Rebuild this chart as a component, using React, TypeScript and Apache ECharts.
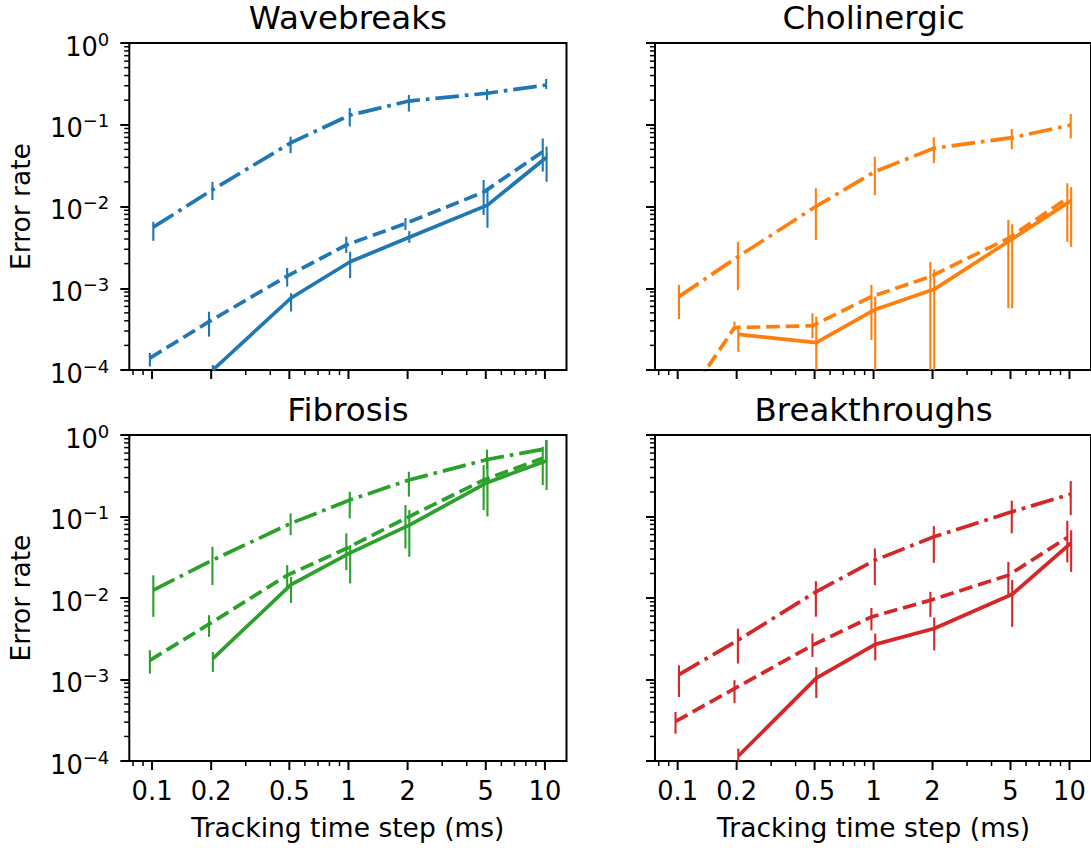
import React, { useEffect, useRef } from "react";
import * as echarts from "echarts";

const FONT = "DejaVu Sans";
const X_MIN = 0.0766;
const X_MAX = 12.88;
const Y_MIN = 1e-4;
const Y_MAX = 1;

// Tracking time steps (ms)
const steps = [0.1, 0.2, 0.5, 1, 2, 5, 10];
const xTickValues = [0.1, 0.2, 0.5, 1, 2, 5, 10];
const xTickLabels = ["0.1", "0.2", "0.5", "1", "2", "5", "10"];
const xMinorTicks = [0.08, 0.09, 0.3, 0.4, 0.6, 0.7, 0.8, 0.9, 3, 4, 6, 7, 8, 9];
const yTickValues = [1e-4, 1e-3, 1e-2, 1e-1, 1];
const yTickExponents = ["\u22124", "\u22123", "\u22122", "\u22121", "0"];
const panelTitles = ["Wavebreaks", "Cholinergic", "Fibrosis", "Breakthroughs"];
const panelColors = ["#1f77b4", "#ff7f0e", "#2ca02c", "#d62728"];

// Wavebreaks
const wavebreaksSolid = [null, 1.0e-4, 7.6e-4, 2.11e-3, 4.2e-3, 0.0104, 0.04];
const wavebreaksSolidLo = [null, 0, 5.2e-4, 1.33e-3, 3.6e-3, 5.5e-3, 0.0201];
const wavebreaksSolidHi = [null, 1.15e-4, 8.7e-4, 2.8e-3, 5.0e-3, 0.0159, 0.054];
const wavebreaksDashed = [1.4e-4, 3.9e-4, 1.41e-3, 3.38e-3, 6.2e-3, 0.015, 0.0468];
const wavebreaksDashedLo = [1.1e-4, 2.56e-4, 1.05e-3, 2.69e-3, 5.16e-3, 7.9e-3, 0.0267];
const wavebreaksDashedHi = [1.62e-4, 5.16e-4, 1.77e-3, 4.27e-3, 7.24e-3, 0.0211, 0.068];
const wavebreaksDashDot = [5.6e-3, 0.016, 0.06, 0.131, 0.195, 0.243, 0.306];
const wavebreaksDashDotLo = [3.8e-3, 0.012, 0.045, 0.095, 0.145, 0.2, 0.274];
const wavebreaksDashDotHi = [6.5e-3, 0.02, 0.0715, 0.16, 0.231, 0.274, 0.363];

// Cholinergic
const cholinergicSolid = [null, 2.73e-4, 2.16e-4, 5.5e-4, 9.7e-4, 4.0e-3, 0.0118];
const cholinergicSolidLo = [null, 1.67e-4, 0, 0, 0, 5.7e-4, 3.2e-3];
const cholinergicSolidHi = [null, 3.46e-4, 4.5e-4, 7.9e-4, 1.7e-3, 6.06e-3, 0.0172];
const cholinergicDashed = [2.8e-5, 3.3e-4, 3.48e-4, 7.9e-4, 1.39e-3, 4.08e-3, 0.0126];
const cholinergicDashedLo = [1.6e-5, 3.1e-4, 2.44e-4, 2.33e-4, 0, 5.7e-4, 3.7e-3];
const cholinergicDashedHi = [4.0e-5, 3.9e-4, 4.94e-4, 1.1e-3, 2.1e-3, 6.84e-3, 0.0192];
const cholinergicDashDot = [7.9e-4, 2.43e-3, 0.01, 0.0267, 0.0515, 0.0695, 0.099];
const cholinergicDashDotLo = [4.2e-4, 9.5e-4, 3.9e-3, 0.0138, 0.0338, 0.05, 0.068];
const cholinergicDashDotHi = [1.1e-3, 3.7e-3, 0.0167, 0.0406, 0.0703, 0.0887, 0.135];

// Fibrosis
const fibrosisSolid = [null, 1.8e-3, 0.0146, 0.0358, 0.0784, 0.262, 0.483];
const fibrosisSolidLo = [null, 1.24e-3, 8.7e-3, 0.0151, 0.032, 0.1, 0.211];
const fibrosisSolidHi = [null, 2.18e-3, 0.0182, 0.0445, 0.12, 0.517, 0.868];
const fibrosisDashed = [1.72e-3, 4.77e-3, 0.019, 0.0405, 0.0947, 0.28, 0.517];
const fibrosisDashedLo = [1.18e-3, 3.33e-3, 0.0131, 0.022, 0.0405, 0.12, 0.243];
const fibrosisDashedHi = [2.29e-3, 6.15e-3, 0.0253, 0.062, 0.138, 0.428, 0.718];
const fibrosisDashDot = [0.0125, 0.0291, 0.0822, 0.159, 0.28, 0.5, 0.68];
const fibrosisDashDotLo = [5.86e-3, 0.0144, 0.059, 0.0947, 0.175, 0.38, 0.5];
const fibrosisDashDotHi = [0.019, 0.0425, 0.109, 0.201, 0.354, 0.66, 0.87];

// Breakthroughs
const breakthroughsSolid = [null, 1.15e-4, 1.04e-3, 2.7e-3, 4.22e-3, 0.0111, 0.0475];
const breakthroughsSolidLo = [null, 0, 5.93e-4, 1.72e-3, 2.28e-3, 4.42e-3, 0.0209];
const breakthroughsSolidHi = [null, 1.42e-4, 1.42e-3, 3.66e-3, 5.76e-3, 0.0166, 0.068];
const breakthroughsDashed = [3.06e-4, 7.73e-4, 2.63e-3, 5.86e-3, 9.4e-3, 0.019, 0.0553];
const breakthroughsDashedLo = [2.16e-4, 5.14e-4, 1.89e-3, 4.02e-3, 5.86e-3, 0.0108, 0.0273];
const breakthroughsDashedHi = [3.99e-4, 9.8e-4, 3.66e-3, 7.56e-3, 0.0119, 0.0277, 0.0885];
const breakthroughsDashDot = [1.15e-3, 3.03e-3, 0.0119, 0.0291, 0.0563, 0.114, 0.188];
const breakthroughsDashDotLo = [6.1e-4, 1.57e-3, 5.9e-3, 0.0144, 0.027, 0.062, 0.104];
const breakthroughsDashDotHi = [1.49e-3, 4.2e-3, 0.0161, 0.0405, 0.0762, 0.156, 0.272];

type Trace = {
  values: (number | null)[];
  lo: (number | null)[];
  hi: (number | null)[];
  style: "solid" | "dashed" | "dashdot";
};

const panels: Trace[][] = [
  [
    { values: wavebreaksSolid, lo: wavebreaksSolidLo, hi: wavebreaksSolidHi, style: "solid" },
    { values: wavebreaksDashed, lo: wavebreaksDashedLo, hi: wavebreaksDashedHi, style: "dashed" },
    { values: wavebreaksDashDot, lo: wavebreaksDashDotLo, hi: wavebreaksDashDotHi, style: "dashdot" },
  ],
  [
    { values: cholinergicSolid, lo: cholinergicSolidLo, hi: cholinergicSolidHi, style: "solid" },
    { values: cholinergicDashed, lo: cholinergicDashedLo, hi: cholinergicDashedHi, style: "dashed" },
    { values: cholinergicDashDot, lo: cholinergicDashDotLo, hi: cholinergicDashDotHi, style: "dashdot" },
  ],
  [
    { values: fibrosisSolid, lo: fibrosisSolidLo, hi: fibrosisSolidHi, style: "solid" },
    { values: fibrosisDashed, lo: fibrosisDashedLo, hi: fibrosisDashedHi, style: "dashed" },
    { values: fibrosisDashDot, lo: fibrosisDashDotLo, hi: fibrosisDashDotHi, style: "dashdot" },
  ],
  [
    { values: breakthroughsSolid, lo: breakthroughsSolidLo, hi: breakthroughsSolidHi, style: "solid" },
    { values: breakthroughsDashed, lo: breakthroughsDashedLo, hi: breakthroughsDashedHi, style: "dashed" },
    { values: breakthroughsDashDot, lo: breakthroughsDashDotLo, hi: breakthroughsDashDotHi, style: "dashdot" },
  ],
];

// small horizontal offsets so overlapping error bars stay distinguishable
const styleShift = { solid: 1.02, dashed: 0.975, dashdot: 1.015 };

const LW = 3.7;
const dashPattern: Record<string, any> = {
  solid: "solid",
  dashed: [3.7 * LW, 1.6 * LW],
  dashdot: [6.4 * LW, 1.6 * LW, 1 * LW, 1.6 * LW],
};

// grid boxes: [left, top]
const gridBoxes = [
  [129.3, 43],
  [655, 43],
  [129.3, 435],
  [655, 435],
];
const GRID_W = 437.2;
const GRID_H = [327, 327, 326, 326];

const yMinorTicks: number[] = [];
for (let d = -4; d < 0; d++) {
  for (let m = 2; m <= 9; m++) yMinorTicks.push(m * Math.pow(10, d));
}

const MAJOR_LEN = 9;
const MINOR_LEN = 5.1;
const TICK_FONT = 25.7;
const SUP_FONT = 18;
const LABEL_FONT = 26.5;
const TITLE_FONT = 32.5;

function textWidth(text: string, size: number) {
  const ctx = document.createElement("canvas").getContext("2d");
  if (!ctx) return text.length * size * 0.6;
  ctx.font = `${size}px "${FONT}"`;
  return ctx.measureText(text).width;
}

function buildOption() {
  const grids: any[] = [];
  const xAxes: any[] = [];
  const yAxes: any[] = [];
  const series: any[] = [];

  gridBoxes.forEach((box, i) => {
    grids.push({
      left: box[0],
      top: box[1],
      width: GRID_W,
      height: GRID_H[i],
      show: true,
      borderColor: "#000",
      borderWidth: 2,
      backgroundColor: "transparent",
      containLabel: false,
    });
    xAxes.push({
      type: "log",
      logBase: 10,
      gridIndex: i,
      min: X_MIN,
      max: X_MAX,
      axisLine: { show: false },
      axisTick: { show: false },
      axisLabel: { show: false },
      splitLine: { show: false },
    });
    yAxes.push({
      type: "log",
      logBase: 10,
      gridIndex: i,
      min: Y_MIN,
      max: Y_MAX,
      axisLine: { show: false },
      splitLine: { show: false },
      axisTick: { show: true, length: MAJOR_LEN, lineStyle: { color: "#000", width: 2 } },
      axisLabel: { show: false },
    });

    const color = panelColors[i];
    panels[i].forEach((tr) => {
      const shift = styleShift[tr.style];
      const pts: number[][] = [];
      const bars: number[][] = [];
      steps.forEach((s, k) => {
        const v = tr.values[k];
        if (v == null) return;
        const x = s * shift;
        pts.push([x, v]);
        const hi = tr.hi[k] as number;
        const lo = tr.lo[k] as number;
        if (hi > Y_MIN) bars.push([x, Math.max(lo, Y_MIN), hi]);
      });
      series.push({
        type: "custom",
        xAxisIndex: i,
        yAxisIndex: i,
        data: bars,
        clip: true,
        silent: true,
        z: 2,
        renderItem: (params: any, api: any) => {
          const x = api.value(0);
          const p1 = api.coord([x, api.value(2)]);
          const p2 = api.coord([x, api.value(1)]);
          return {
            type: "line",
            shape: { x1: p1[0], y1: p1[1], x2: p2[0], y2: p2[1] },
            style: { stroke: color, lineWidth: 2.1 },
          };
        },
      });
      series.push({
        type: "line",
        xAxisIndex: i,
        yAxisIndex: i,
        data: pts,
        symbol: "none",
        silent: true,
        z: 3,
        lineStyle: { color, width: LW, type: dashPattern[tr.style], cap: "butt" },
      });
    });

    // x ticks (major / minor)
    const tickSeries = (vals: number[], len: number, width: number) => ({
      type: "custom",
      xAxisIndex: i,
      yAxisIndex: i,
      data: vals.map((v) => [v, Y_MIN]),
      clip: false,
      silent: true,
      z: 5,
      renderItem: (params: any, api: any) => {
        const p = api.coord([api.value(0), Y_MIN]);
        return {
          type: "line",
          shape: { x1: p[0], y1: p[1], x2: p[0], y2: p[1] + len },
          style: { stroke: "#000", lineWidth: width },
        };
      },
    });
    series.push(tickSeries(xTickValues, MAJOR_LEN, 2));
    series.push(tickSeries(xMinorTicks, MINOR_LEN, 1.5));

    // y minor ticks
    series.push({
      type: "custom",
      xAxisIndex: i,
      yAxisIndex: i,
      data: yMinorTicks.map((v) => [X_MIN, v]),
      clip: false,
      silent: true,
      z: 5,
      renderItem: (params: any, api: any) => {
        const p = api.coord([X_MIN, api.value(1)]);
        return {
          type: "line",
          shape: { x1: p[0] - MINOR_LEN, y1: p[1], x2: p[0], y2: p[1] },
          style: { stroke: "#000", lineWidth: 1.5 },
        };
      },
    });

    // y tick labels (10 with a raised exponent) on the left column
    if (i % 2 === 0) {
      series.push({
        type: "custom",
        xAxisIndex: i,
        yAxisIndex: i,
        data: yTickValues.map((v, k) => [X_MIN, v, k]),
        clip: false,
        silent: true,
        z: 5,
        renderItem: (params: any, api: any) => {
          const p = api.coord([X_MIN, api.value(1)]);
          const exp = yTickExponents[api.value(2)];
          const right = p[0] - 20;
          const supW = textWidth(exp, SUP_FONT);
          return {
            type: "group",
            children: [
              {
                type: "text",
                x: right - supW,
                y: p[1] + 3.5,
                style: {
                  text: "10",
                  fontFamily: FONT,
                  fontSize: TICK_FONT,
                  fill: "#000",
                  align: "right",
                  verticalAlign: "middle",
                },
              },
              {
                type: "text",
                x: right,
                y: p[1] - 4,
                style: {
                  text: exp,
                  fontFamily: FONT,
                  fontSize: SUP_FONT,
                  fill: "#000",
                  align: "right",
                  verticalAlign: "middle",
                },
              },
            ],
          };
        },
      });
    }

    // x tick labels on the bottom row
    if (i >= 2) {
      series.push({
        type: "custom",
        xAxisIndex: i,
        yAxisIndex: i,
        data: xTickValues.map((v, k) => [v, Y_MIN, k]),
        clip: false,
        silent: true,
        z: 5,
        renderItem: (params: any, api: any) => {
          const p = api.coord([api.value(0), Y_MIN]);
          return {
            type: "text",
            x: p[0],
            y: p[1] + 30,
            style: {
              text: xTickLabels[api.value(2)],
              fontFamily: FONT,
              fontSize: TICK_FONT,
              fill: "#000",
              align: "center",
              verticalAlign: "middle",
            },
          };
        },
      });
    }
  });

  const graphic: any[] = [];
  gridBoxes.forEach((box, i) => {
    const cx = box[0] + GRID_W / 2;
    graphic.push({
      type: "text",
      x: cx,
      y: box[1] - 25,
      style: {
        text: panelTitles[i],
        fontFamily: FONT,
        fontSize: TITLE_FONT,
        fill: "#000",
        align: "center",
        verticalAlign: "middle",
      },
    });
    if (i % 2 === 0) {
      graphic.push({
        type: "text",
        x: 20,
        y: box[1] + GRID_H[i] / 2,
        rotation: Math.PI / 2,
        style: {
          text: "Error rate",
          fontFamily: FONT,
          fontSize: LABEL_FONT,
          fill: "#000",
          align: "center",
          verticalAlign: "middle",
        },
      });
    }
    if (i >= 2) {
      graphic.push({
        type: "text",
        x: cx,
        y: box[1] + GRID_H[i] + 66,
        style: {
          text: "Tracking time step (ms)",
          fontFamily: FONT,
          fontSize: LABEL_FONT,
          fill: "#000",
          align: "center",
          verticalAlign: "middle",
        },
      });
    }
  });

  return {
    animation: false,
    backgroundColor: "#fff",
    grid: grids,
    xAxis: xAxes,
    yAxis: yAxes,
    series,
    graphic,
  };
}

export default function App() {
  const ref = useRef<HTMLDivElement>(null);
  useEffect(() => {
    if (!ref.current) return;
    const chart = echarts.init(ref.current, undefined, { renderer: "svg" });
    chart.setOption(buildOption() as any);
    return () => chart.dispose();
  }, []);
  return (
    <div
      ref={ref}
      style={{ position: "absolute", left: 0, top: 0, width: 1091, height: 848, background: "#fff" }}
    />
  );
}
